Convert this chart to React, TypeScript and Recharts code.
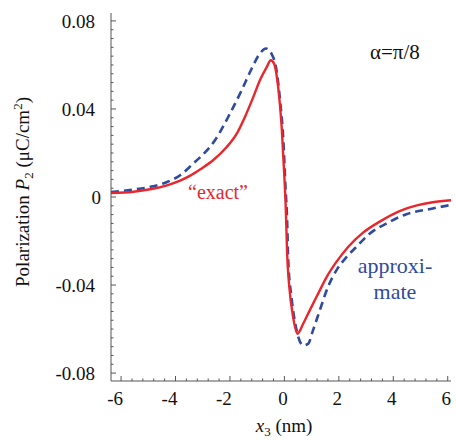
import React from 'react';
import { LineChart, Line, XAxis, YAxis } from 'recharts';

// values
const exactX = [
  -6.37, -5.54, -4.93, -4.31, -3.83, -3.46, -3.1, -2.61, -2.12, -1.75, -1.45, -1.14,
  -0.9, -0.65, -0.5, -0.38, -0.23, -0.1, -0.02, 0.05, 0.1, 0.18, 0.32, 0.48, 0.69,
  0.93, 1.24, 1.55, 1.91, 2.34, 2.89, 3.5, 4.23, 4.9, 5.45, 6.12,
];
const exactP = [
  0.0018, 0.0024, 0.0035, 0.0053, 0.0074, 0.0097, 0.0125, 0.0168, 0.0227, 0.0288, 0.0364, 0.0455,
  0.053, 0.059, 0.0621, 0.0606, 0.05, 0.0318, 0.0136, -0.005, -0.0257, -0.0409, -0.0545, -0.0621, -0.0576,
  -0.0515, -0.0439, -0.0364, -0.0295, -0.0227, -0.0162, -0.0112, -0.0064, -0.0037, -0.0024, -0.0015,
];

const approxX = [
  -6.37, -5.54, -4.93, -4.31, -3.83, -3.34, -3.1, -2.55, -2.0, -1.57, -1.2, -0.9,
  -0.68, -0.47, -0.29, -0.16, -0.04, 0.04, 0.1, 0.14, 0.26, 0.45, 0.69, 0.87,
  1.05, 1.3, 1.6, 1.91, 2.28, 2.64, 3.13, 3.74, 4.48, 5.45, 6.12,
];
const approxP = [
  0.0023, 0.0034, 0.0046, 0.0068, 0.0099, 0.0153, 0.018, 0.0258, 0.0379, 0.0485, 0.0584, 0.0652,
  0.0675, 0.065, 0.0576, 0.044, 0.026, 0.0045, -0.0106, -0.0288, -0.0455, -0.0606, -0.0674, -0.0667,
  -0.0606, -0.0515, -0.0409, -0.0333, -0.0273, -0.0227, -0.0167, -0.0121, -0.0078, -0.0052, -0.0036,
];

const xMajorTicks = [-6, -4, -2, 0, 2, 4, 6];
const xTickLabels = ['-6', '-4', '-2', '0', '2', '4', '6'];
const yMajorTicks = [-0.08, -0.04, 0, 0.04, 0.08];
const yTickLabels = ['-0.08', '-0.04', '0', '0.04', '0.08'];

const xDomain = [-6.37, 6.12];
const yDomain = [-0.0836, 0.0836];

// minor ticks: every 0.4 on x, every 0.004 on y
const xTicks: number[] = [];
for (let k = -15; k <= 15; k++) xTicks.push(+(k * 0.4).toFixed(2));
const yTicks: number[] = [];
for (let k = -20; k <= 20; k++) yTicks.push(+(k * 0.004).toFixed(3));

const exactData = exactX.map((x, i) => ({ x, p: exactP[i] }));
const approxData = approxX.map((x, i) => ({ x, p: approxP[i] }));

const FONT = "'Liberation Serif', 'Times New Roman', Times, serif";
const FRAME = '#555';
const RED = '#e8262b';
const BLUE = '#2f4a9e';
const serif = (size: number, fill = '#111') => ({ fontFamily: FONT, fontSize: size, fill });

const majorIndex = (list: number[], v: number) => list.findIndex((m) => Math.abs(m - v) < 1e-6);

const BottomTick = (props: any) => {
  const { x, y, payload } = props;
  const i = majorIndex(xMajorTicks, payload.value);
  return (
    <g>
      <line x1={x} x2={x} y1={y} y2={y - (i >= 0 ? 5 : 2.5)} stroke={FRAME} />
      {i >= 0 && (
        <text x={x + (payload.value < 0 ? -6 : -1.5)} y={y + 24} textAnchor="middle" style={serif(19)}>
          {xTickLabels[i]}
        </text>
      )}
    </g>
  );
};

const TopTick = (props: any) => {
  const { x, y, payload } = props;
  const i = majorIndex(xMajorTicks, payload.value);
  return <line x1={x} x2={x} y1={y} y2={y + (i >= 0 ? 5 : 2.5)} stroke={FRAME} />;
};

const LeftTick = (props: any) => {
  const { x, y, payload } = props;
  const i = majorIndex(yMajorTicks, payload.value);
  return (
    <g>
      <line x1={x} x2={x + (i >= 0 ? 5 : 2.5)} y1={y} y2={y} stroke={FRAME} />
      {i >= 0 && (
        <text x={x - 16 + (payload.value === 0 ? 6 : 0)} y={y + 7} textAnchor="end" style={serif(19)}>
          {yTickLabels[i]}
        </text>
      )}
    </g>
  );
};

const RightTick = (props: any) => {
  const { x, y, payload } = props;
  const i = majorIndex(yMajorTicks, payload.value);
  return <line x1={x} x2={x - (i >= 0 ? 5 : 2.5)} y1={y} y2={y} stroke={FRAME} />;
};

export default function App() {
  return (
    <div style={{ position: 'absolute', left: 0, top: 0, width: 456, height: 440, background: '#fff' }}>
      <LineChart width={456} height={440} margin={{ top: 13, right: 5, bottom: 0, left: 0 }}>
        <XAxis
          xAxisId="b"
          dataKey="x"
          type="number"
          domain={xDomain}
          ticks={xTicks}
          interval={0}
          height={59}
          tickSize={0}
          tickMargin={0}
          tick={<BottomTick />}
          axisLine={{ stroke: FRAME }}
        />
        <XAxis
          xAxisId="t"
          orientation="top"
          dataKey="x"
          type="number"
          domain={xDomain}
          ticks={xTicks}
          interval={0}
          height={0}
          tickSize={0}
          tickMargin={0}
          tick={<TopTick />}
          axisLine={{ stroke: FRAME }}
        />
        <YAxis
          yAxisId="l"
          type="number"
          domain={yDomain}
          ticks={yTicks}
          interval={0}
          width={111}
          tickSize={0}
          tickMargin={0}
          tick={<LeftTick />}
          axisLine={{ stroke: FRAME }}
        />
        <YAxis
          yAxisId="r"
          orientation="right"
          type="number"
          domain={yDomain}
          ticks={yTicks}
          interval={0}
          width={0}
          tickSize={0}
          tickMargin={0}
          tick={<RightTick />}
          axisLine={{ stroke: FRAME }}
        />
        <Line
          xAxisId="b"
          yAxisId="l"
          data={approxData}
          dataKey="p"
          type="monotone"
          stroke={BLUE}
          strokeWidth={2.6}
          strokeDasharray="8 5"
          dot={false}
          isAnimationActive={false}
        />
        <Line
          xAxisId="b"
          yAxisId="l"
          data={exactData}
          dataKey="p"
          type="monotone"
          stroke={RED}
          strokeWidth={2.4}
          dot={false}
          isAnimationActive={false}
        />
      </LineChart>
      <svg width={456} height={440} style={{ position: 'absolute', left: 0, top: 0, pointerEvents: 'none' }}>
        <text transform="translate(29,192) rotate(-90)" textAnchor="middle" style={serif(19)}>
          Polarization <tspan fontStyle="italic">P</tspan>
          <tspan fontSize={13} dy={4}>2</tspan>
          <tspan dy={-4}> (μC/cm</tspan>
          <tspan fontSize={13} dy={-7}>2</tspan>
          <tspan dy={7}>)</tspan>
        </text>
        <text x={284} y={432} textAnchor="middle" style={serif(19)}>
          <tspan fontStyle="italic">x</tspan>
          <tspan fontSize={13} dy={4}>3</tspan>
          <tspan dy={-4}> (nm)</tspan>
        </text>
        <text x={370} y={59} style={serif(21)}>α=π/8</text>
        <text x={188} y={199} style={serif(20, RED)}>“exact”</text>
        <text x={395} y={273} textAnchor="middle" style={serif(22, BLUE)}>approxi-</text>
        <text x={395} y={299} textAnchor="middle" style={serif(22, BLUE)}>mate</text>
      </svg>
    </div>
  );
}
